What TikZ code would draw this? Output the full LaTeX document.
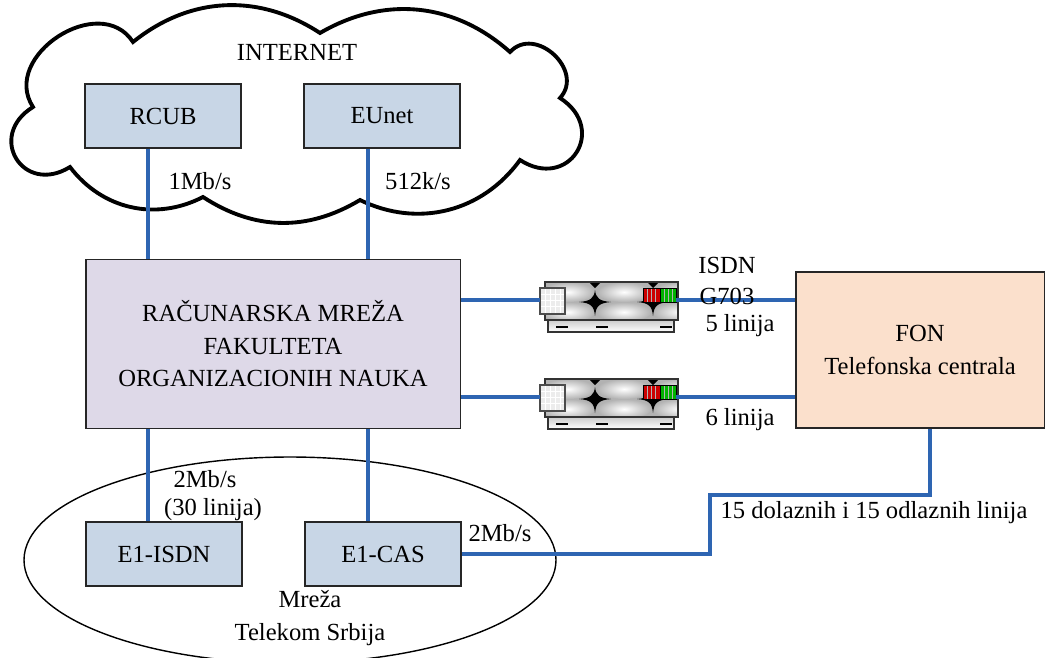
\documentclass[tikz,border=0pt]{standalone}
\usepackage{fontspec}
\setmainfont{Liberation Serif}
\usepackage{tikz}
\usetikzlibrary{calc,shapes.geometric}

\definecolor{boxblue}{RGB}{200,214,230}
\definecolor{lavender}{RGB}{222,217,232}
\definecolor{peach}{RGB}{251,224,204}
\definecolor{linkblue}{RGB}{46,101,178}

\tikzset{
  unit/.style={draw=black!85, line width=1.1pt, fill=boxblue, minimum width=3.12cm, minimum height=1.28cm},
  link/.style={linkblue, line width=1.8pt},
  lbl/.style={inner sep=0pt},
  modem/.pic={
    % body with the four lobes
    \begin{scope}
      \clip (5,2) rectangle (138,40);
      \fill[gray!60] (5,2) rectangle (138,40);
      \foreach \cx in {28,84,140} {
        \shade[inner color=white, outer color=gray!60] (\cx,12) ellipse (27 and 10);
        \shade[inner color=white, outer color=gray!60] (\cx,32) ellipse (27 and 10);
      }
      \foreach \sx in {55,113} {
        \fill (\sx-16,22) .. controls (\sx-4,21) and (\sx-1,18) .. (\sx,10)
          .. controls (\sx+1,18) and (\sx+4,21) .. (\sx+16,22)
          .. controls (\sx+4,23) and (\sx+1,26) .. (\sx,36)
          .. controls (\sx-1,26) and (\sx-4,23) .. cycle;
        \fill (\sx-6,2) -- (\sx+6,2) -- (\sx,8) -- cycle;
      }
    \end{scope}
    \draw[black!80, line width=0.7pt] (5,2) rectangle (138,40);
    % base plate
    \shade[top color=gray!40, bottom color=white, draw=black!80, line width=0.6pt] (8,40) rectangle (134,52);
    \foreach \mx in {22,62,126} \fill (\mx-6,46) rectangle (\mx+6,47.5);
    % connector
    \fill[gray!15] (0,8) rectangle (25,34);
    \foreach \gx in {5,10,15,20} \draw[white, line width=0.4pt] (\gx,8) -- (\gx,34);
    \foreach \gy in {14,20,26} \draw[white, line width=0.4pt] (0,\gy) -- (25,\gy);
    \draw[black!70, line width=0.6pt] (0,8) rectangle (25,34);
    % status lamps
    \fill[red!80!black] (103,8) rectangle (120,22);
    \fill[green!70!black] (120,8) rectangle (136,22);
    \foreach \gx in {107,111,115,124,128,132} \draw[black!30, line width=0.3pt] (\gx,8) -- (\gx,22);
    \draw[black, line width=0.5pt] (103,8) rectangle (120,22) (120,8) rectangle (136,22);
    \coordinate (-in) at (0,20);
    \coordinate (-out) at (136,20);
  }
}

\begin{document}
\begin{tikzpicture}[x=0.02cm, y=-0.02cm, font=\fontsize{14}{18.5}\selectfont]
    \useasboundingbox (0,0) rectangle (1053,657);

    % internet cloud
    \draw[line width=2.2pt, line join=miter]
      (33,107) to[bend left=90, looseness=1.3] (133,42)
               to[bend left=36] (320,33)
               to[bend left=36] (510,52)
               to[bend left=90, looseness=1.4] (560,98)
               to[bend left=90, looseness=2.0] (520,160)
               to[bend left=40] (360,200)
               to[bend left=32] (203,197)
               to[bend left=40] (70,167)
               to[bend left=90, looseness=2.0] cycle;
    \node[lbl] (inet) at (297,52) {INTERNET};
    \node[unit] (rcub) at (163,116) {RCUB};
    \node[unit] (eunet) at (382,116) {EUnet};

    % faculty network and the exchange
    \node[draw=black!85, line width=1.1pt, fill=lavender, minimum width=7.5cm, minimum height=3.38cm,
          align=center] (fon net) at (273,344) {RAČUNARSKA MREŽA\\FAKULTETA\\ORGANIZACIONIH NAUKA};
    \node[draw=black!85, line width=1.1pt, fill=peach, minimum width=4.98cm, minimum height=3.12cm,
          align=center] (pbx) at (920,350) {FON\\Telefonska centrala};

    % telekom network
    \draw[line width=0.8pt] (290,560) ellipse (266 and 103);
    \node[unit] (isdn) at (164,554) {E1-ISDN};
    \node[unit] (cas) at (383,554) {E1-CAS};
    \node[lbl, align=center] (tks) at (310,618) {Mreža\\Telekom Srbija};

    % modems
    \pic (m1) at (540,280) {modem};
    \pic (m2) at (540,377) {modem};

    % links
    \coordinate (up1) at ($(rcub.south)+(-15,0)$);
    \coordinate (up2) at ($(eunet.south)+(-14,0)$);
    \draw[link] (up1) -- (up1 |- fon net.north);
    \draw[link] (up2) -- (up2 |- fon net.north);
    \draw[link] (up1 |- fon net.south) -- (up1 |- isdn.north);
    \draw[link] (up2 |- fon net.south) -- (up2 |- cas.north);
    \draw[link] (fon net.east |- m1-in) -- (m1-in);
    \draw[link] (fon net.east |- m2-in) -- (m2-in);
    \draw[link] (m1-out) -- (pbx.west |- m1-out);
    \draw[link] (m2-out) -- (pbx.west |- m2-out);
    \coordinate (tap) at ($(pbx.south)+(10,0)$);
    \draw[link] (cas.east) -| (710,495) -| (tap);

    % rates and line counts
    \node[lbl] at (200,181) {1Mb/s};
    \node[lbl] at (418,181) {512k/s};
    \node[lbl] at (205,479) {2Mb/s};
    \node[lbl] at (213,510) {(30 linija)};
    \node[lbl] at (500,533) {2Mb/s};
    \node[lbl] at (727,265) {ISDN};
    \node[lbl] at (727,296) {G703};
    \node[lbl] at (740,326) {5 linija};
    \node[lbl] at (740,420) {6 linija};
    \node[lbl] at (874,513) {15 dolaznih i 15 odlaznih linija};
\end{tikzpicture}
\end{document}
